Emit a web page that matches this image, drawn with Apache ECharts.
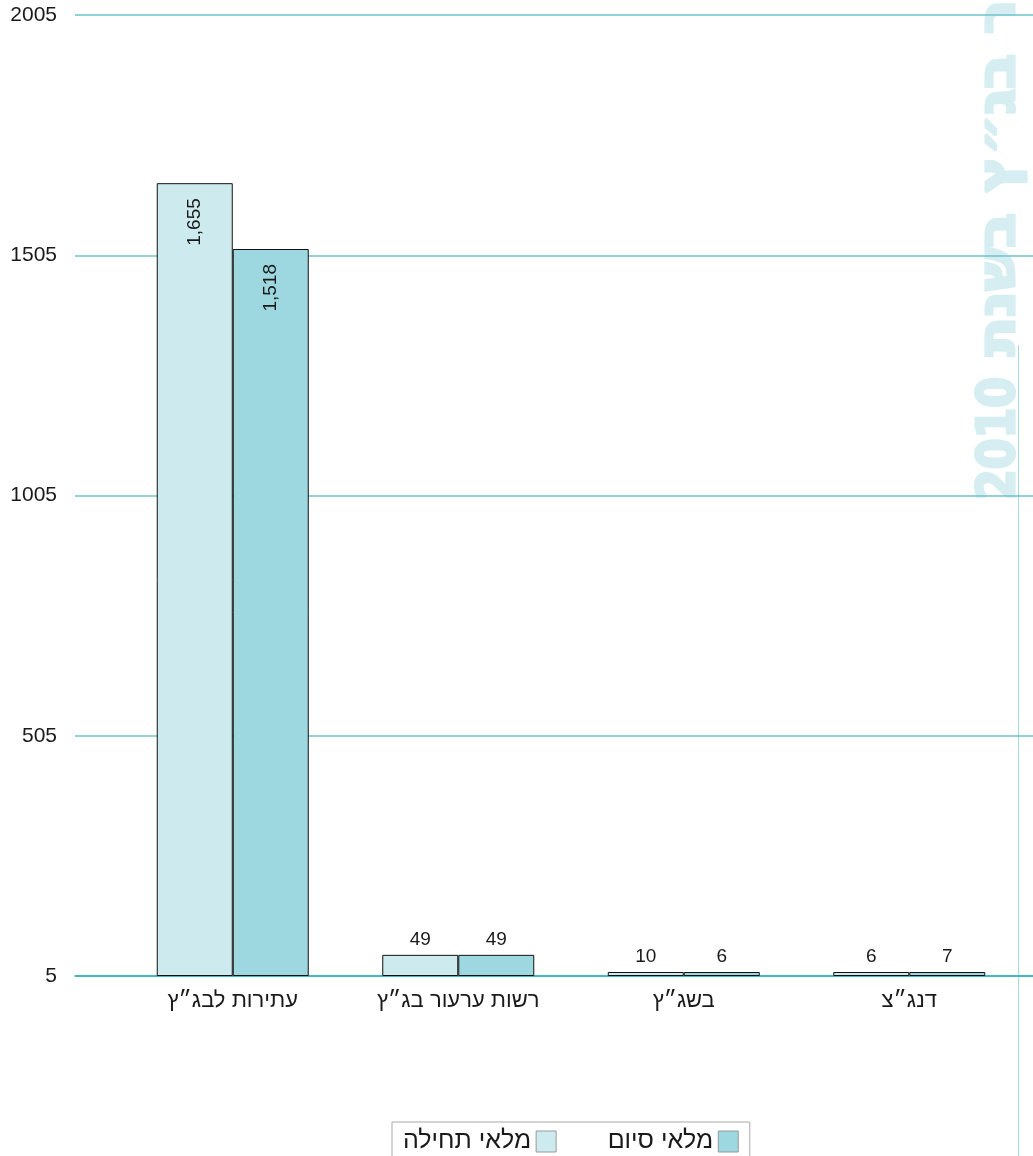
<!DOCTYPE html>
<html>
<head>
<meta charset="utf-8">
<script src="https://cdn.jsdelivr.net/npm/echarts@6/dist/echarts.min.js"></script>
<style>
html,body{margin:0;padding:0;background:#fff;}
#chart{width:1033px;height:1156px;}
</style>
</head>
<body>
<div id="chart"></div>
<script>
const categories = ['עתירות לבג״ץ', 'רשות ערעור בג״ץ', 'בשג״ץ', 'דנג״צ'];
const seriesNames = ['מלאי תחילה', 'מלאי סיום'];
const startStock = [1655, 49, 10, 6];
const endStock = [1518, 49, 6, 7];
const yTickLabels = ['5', '505', '1005', '1505', '2005'];
const watermarkWords = 'עבור בג״ץ בשנת';
const watermarkYear = '2010';

const FONT = '"Liberation Sans", Arial, sans-serif';
const WM_FONT = '"DejaVu Sans", sans-serif';
const colors = ['#cdebee', '#9dd8e0'];

function buildData(values) {
  return values.map(v => {
    const big = v > 1000;
    return {
      value: v,
      label: big ? {
        show: true, position: 'insideTop', rotate: 90, align: 'right',
        verticalAlign: 'middle', distance: 15
      } : {
        show: true, position: 'top', distance: 6
      }
    };
  });
}

const wmStyle = {fill: '#d6eef1', stroke: '#d6eef1', lineWidth: 3,
  fontSize: 52, fontWeight: 'bold', fontFamily: WM_FONT,
  align: 'left', verticalAlign: 'bottom'};

const chart = echarts.init(document.getElementById('chart'), null, {renderer: 'canvas'});
chart.setOption({
  animation: false,
  backgroundColor: '#fff',
  textStyle: {fontFamily: FONT},
  grid: [
    {left: 75, right: 0, top: 15, bottom: 180},
    {left: 120, right: 11, top: 15, bottom: 180}
  ],
  xAxis: [
    {gridIndex: 0, type: 'value', min: 0, max: 1, show: true,
     axisLine: {show: true, lineStyle: {color: '#2ab1bf', width: 1.5}},
     axisTick: {show: false}, axisLabel: {show: false}, splitLine: {show: false}},
    {gridIndex: 1, type: 'category', data: categories,
     axisLine: {show: false}, axisTick: {show: false},
     axisLabel: {fontSize: 22, color: '#1a1a1a', margin: 14, fontFamily: FONT}}
  ],
  yAxis: [
    {gridIndex: 0, type: 'value', min: 0, max: 2000, interval: 500,
     axisLine: {show: false}, axisTick: {show: false},
     axisLabel: {fontSize: 21, color: '#1a1a1a', margin: 18, fontFamily: FONT,
       formatter: (v) => yTickLabels[Math.round(v / 500)]},
     splitLine: {show: true, lineStyle: {color: '#6cc3cc', width: 1.5}}},
    {gridIndex: 1, type: 'value', min: 5, max: 2005, startValue: 5, show: false,
     splitLine: {show: false}}
  ],
  legend: {
    left: 392, top: 1122, orient: 'horizontal', align: 'right',
    data: seriesNames,
    icon: 'rect',
    itemWidth: 20, itemHeight: 21, itemGap: 51,
    padding: [7, 11, 7, 11],
    borderColor: '#aaa', borderWidth: 1,
    itemStyle: {borderColor: '#999', borderWidth: 1},
    textStyle: {fontSize: 25, color: '#1a1a1a', fontFamily: FONT}
  },
  graphic: [
    {type: 'text', z: -10, silent: true, x: 1026, y: 500, rotation: Math.PI / 2,
     scaleX: 0.85, style: Object.assign({text: watermarkYear}, wmStyle)},
    {type: 'text', z: -10, silent: true, x: 1026, y: 356, rotation: Math.PI / 2,
     scaleX: 1.1, style: Object.assign({text: watermarkWords}, wmStyle)},
    {type: 'line', z: -5, silent: true,
     shape: {x1: 1018.5, y1: 345, x2: 1018.5, y2: 1156},
     style: {stroke: '#a6dde3', lineWidth: 1}}
  ],
  series: [
    {name: seriesNames[0], type: 'bar', xAxisIndex: 1, yAxisIndex: 1,
     data: buildData(startStock), barWidth: 76, barGap: '0%', barMinHeight: 4,
     itemStyle: {color: colors[0], borderColor: '#111', borderWidth: 1},
     label: {fontSize: 19, color: '#1a1a1a', fontFamily: FONT,
       formatter: p => p.value.toLocaleString('en-US')}},
    {name: seriesNames[1], type: 'bar', xAxisIndex: 1, yAxisIndex: 1,
     data: buildData(endStock), barWidth: 76, barGap: '0%', barMinHeight: 4,
     itemStyle: {color: colors[1], borderColor: '#111', borderWidth: 1},
     label: {fontSize: 19, color: '#1a1a1a', fontFamily: FONT,
       formatter: p => p.value.toLocaleString('en-US')}}
  ]
});
</script>
</body>
</html>
